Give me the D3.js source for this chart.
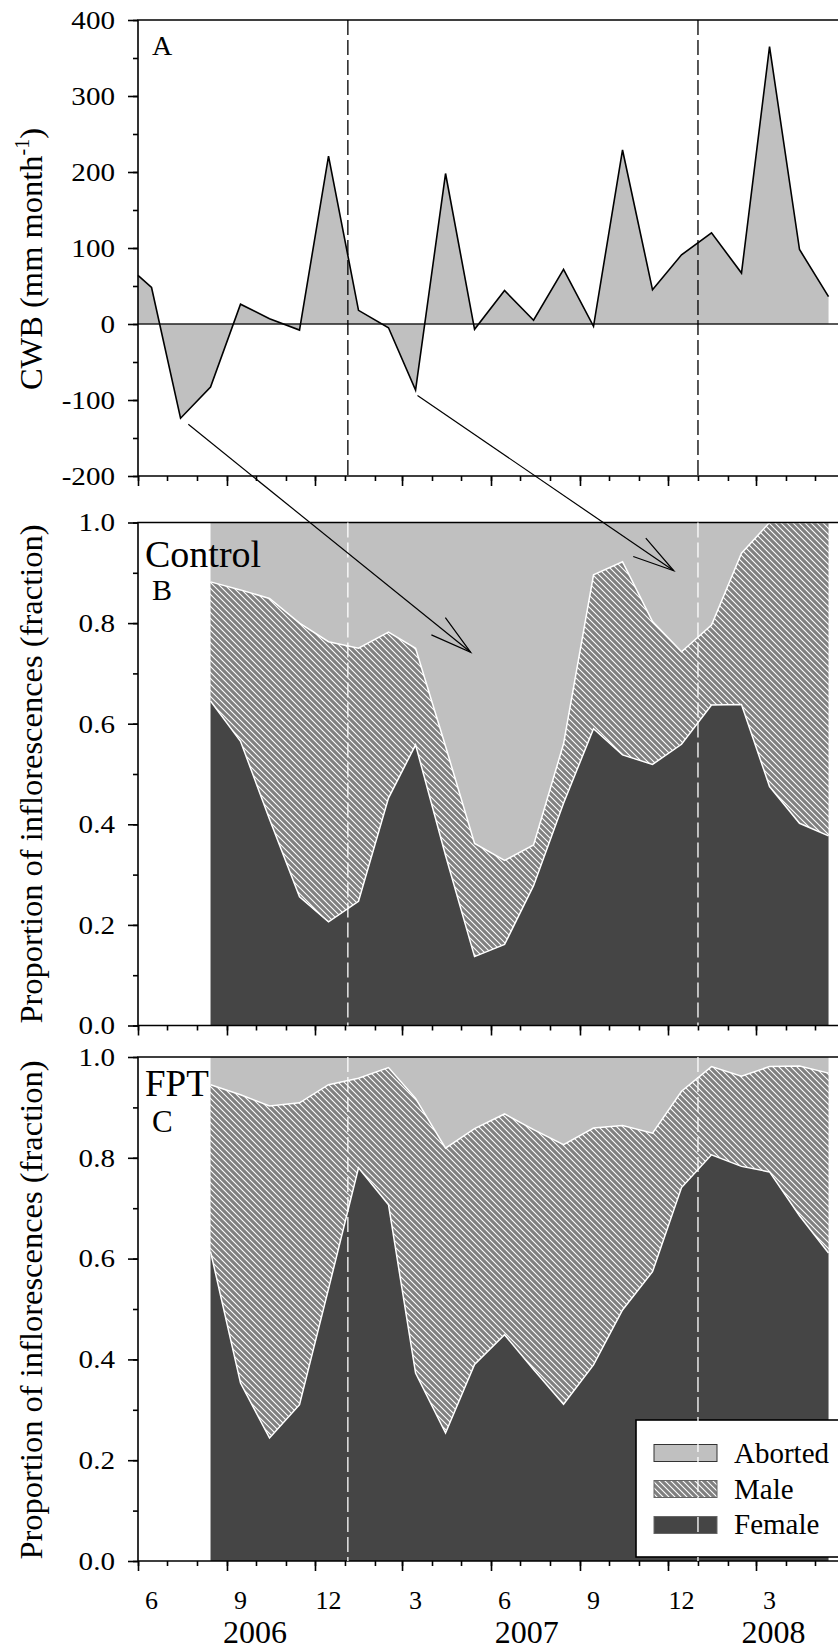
<!DOCTYPE html>
<html><head><meta charset="utf-8">
<script src="https://cdn.jsdelivr.net/npm/d3@7"></script>
<style>
body{margin:0;background:#fff}
svg{display:block}
svg text{font-family:'Liberation Serif','Tinos','Times New Roman','DejaVu Serif','Noto Serif',serif !important;fill:#000}
</style>
</head><body>
<svg id="c" width="838" height="1649" font-family="Liberation Serif, Tinos, Times New Roman, DejaVu Serif, serif"></svg>
<script>
// ---------------- DATA ----------------
const cwbDates = ["2006-06-01","2006-06-15","2006-07-15","2006-08-15","2006-09-15","2006-10-15","2006-11-15","2006-12-15",
  "2007-01-15","2007-02-15","2007-03-15","2007-04-15","2007-05-15","2007-06-15","2007-07-15","2007-08-15","2007-09-15","2007-10-15","2007-11-15","2007-12-15",
  "2008-01-15","2008-02-15","2008-03-15","2008-04-15","2008-05-15"];
const cwbValues = [64,48,-124,-83,26,7,-8,221,18,-5,-87,198,-7,44,5,72,-3,229,45,91,120,67,365,98,36];

const flowerDates = ["2006-08-15","2006-09-15","2006-10-15","2006-11-15","2006-12-15",
  "2007-01-15","2007-02-15","2007-03-15","2007-04-15","2007-05-15","2007-06-15","2007-07-15","2007-08-15","2007-09-15","2007-10-15","2007-11-15","2007-12-15",
  "2008-01-15","2008-02-15","2008-03-15","2008-04-15","2008-05-15"];
const controlFemale  = [.645,.565,.41,.256,.206,.247,.452,.558,.338,.137,.161,.278,.442,.59,.538,.519,.559,.637,.638,.475,.402,.377];
const controlMale    = [.237,.301,.439,.544,.557,.503,.33,.192,.217,.225,.167,.081,.118,.306,.384,.284,.184,.159,.301,.525,.598,.623];
const controlAborted = [.118,.134,.151,.2,.237,.25,.218,.25,.445,.638,.672,.641,.44,.104,.078,.197,.257,.204,.061,0,0,0];
const fptFemale  = [.614,.353,.244,.31,.54,.78,.707,.373,.254,.39,.449,.38,.311,.389,.498,.574,.741,.806,.783,.772,.685,.611];
const fptMale    = [.331,.572,.659,.599,.405,.178,.272,.545,.565,.468,.438,.476,.515,.47,.366,.275,.191,.175,.179,.209,.297,.357];
const fptAborted = [.055,.075,.097,.091,.055,.042,.021,.082,.181,.142,.113,.144,.174,.141,.136,.151,.068,.019,.038,.019,.018,.032];

const cwbTicks = [-200,-100,0,100,200,300,400];
const cwbMinor = [-200,-150,-100,-50,0,50,100,150,200,250,300,350,400];
const propTicks = [0,0.2,0.4,0.6,0.8,1.0];
const propMinor = [0,.1,.2,.3,.4,.5,.6,.7,.8,.9,1];
const monthLabels = ["6","9","12","3","6","9","12","3"];
const monthLabelDates = ["2006-06-15","2006-09-15","2006-12-15","2007-03-15","2007-06-15","2007-09-15","2007-12-15","2008-03-15"];
const yearLabels = ["2006","2007","2008"];
const yearLabelDates = ["2006-09-30","2007-07-08","2008-03-19"];
const dividerDates = ["2007-01-04","2008-01-01"];
const legendLabels = ["Aborted","Male","Female"];
const arrowFromDates = ["2006-07-23","2007-03-17"];
const arrowFromCwb = [-132,-94];
const arrowToDates = ["2007-05-11","2007-12-07"];
const arrowToProp = [0.742,0.904];

// ---------------- SETUP ----------------
const FONT = "'Liberation Serif','Tinos','Times New Roman','DejaVu Serif',serif";
const parse = d3.timeParse("%Y-%m-%d");
const svg = d3.select("#c");
const L = 138, R = 840;
const x = d3.scaleTime().domain([parse("2006-06-01"), parse("2008-03-01")]).range([138, 756]);
const yA = d3.scaleLinear().domain([-200,400]).range([476,20]);
const yB = d3.scaleLinear().domain([0,1]).range([1025.5,522.5]);
const yC = d3.scaleLinear().domain([0,1]).range([1561,1057]);

const COL = {aborted:"#c0c0c0", female:"#454545"};
const defs = svg.append("defs");
const pat = defs.append("pattern").attr("id","hatch").attr("patternUnits","userSpaceOnUse").attr("width",6).attr("height",6);
pat.append("rect").attr("width",6).attr("height",6).attr("fill","#808080");
pat.append("path").attr("d","M-1,-1L7,7M-1,5L1,7M5,-1L7,1").attr("stroke","#fff").attr("stroke-width",1.1);

const allMonths = d3.timeMonth.range(parse("2006-06-01"), parse("2008-05-02"));
const majorMonths = allMonths.filter(d => d.getMonth() % 3 === 2);
const SX = 1.12; // horizontal stretch of tick labels

function txt(sel) { return sel.style("font-family", FONT).attr("fill","#000"); }

function axes(y, majors, minors, fmt) {
  const [bot, top] = y.range();
  const gm = svg.append("g").attr("transform",`translate(${L},0)`)
    .call(d3.axisLeft(y).tickValues(minors).tickSize(5).tickFormat(""));
  gm.select(".domain").remove();
  const gM = svg.append("g").attr("transform",`translate(${L},0)`)
    .call(d3.axisLeft(y).tickValues(majors).tickSize(10).tickPadding(13).tickFormat(fmt));
  gM.select(".domain").remove();
  gM.attr("font-family", null);
  txt(gM.selectAll("text")).style("font-size","26px")
    .attr("x", -23/SX).attr("transform", `scale(${SX},1)`);
  const xm = svg.append("g").attr("transform",`translate(0,${bot})`)
    .call(d3.axisBottom(x).tickValues(allMonths).tickSize(5).tickFormat(""));
  xm.select(".domain").remove();
  const xM = svg.append("g").attr("transform",`translate(0,${bot})`)
    .call(d3.axisBottom(x).tickValues(majorMonths).tickSize(10).tickFormat(""));
  xM.select(".domain").remove();
  svg.selectAll(".tick line").attr("stroke","#000").attr("stroke-width",1.6);
  svg.append("path").attr("d",`M${R},${top}H${L}V${bot}H${R}`).attr("fill","none").attr("stroke","#000").attr("stroke-width",1.6);
}

function dividers(y, color) {
  const [bot, top] = y.range();
  svg.append("g").selectAll("line").data(dividerDates).join("line")
    .attr("x1", d => x(parse(d))).attr("x2", d => x(parse(d)))
    .attr("y1", top).attr("y2", bot)
    .attr("stroke", color).attr("stroke-width", 1.3).attr("stroke-dasharray","15,5");
}

// ---------------- PANEL A ----------------
const cwb = cwbDates.map((d,i)=>({date:parse(d), v:cwbValues[i]}));
svg.append("path").datum(cwb)
  .attr("d", d3.area().x(d=>x(d.date)).y0(yA(0)).y1(d=>yA(d.v)))
  .attr("fill", COL.aborted);
svg.append("line").attr("x1",L).attr("x2",R).attr("y1",yA(0)).attr("y2",yA(0)).attr("stroke","#222").attr("stroke-width",1.6);
svg.append("path").datum(cwb)
  .attr("d", d3.line().x(d=>x(d.date)).y(d=>yA(d.v)))
  .attr("fill","none").attr("stroke","#000").attr("stroke-width",1.6);
dividers(yA, "#000");
axes(yA, cwbTicks, cwbMinor, d => String(d));

// ---------------- PANELS B & C ----------------
function propPanel(y, female, male, aborted) {
  const rows = flowerDates.map((d,i)=>({date:parse(d), female:female[i], male:male[i], aborted:aborted[i]}));
  const series = d3.stack().keys(["female","male","aborted"])(rows);
  const area = d3.area().x(d=>x(d.data.date)).y0(d=>y(d[0])).y1(d=>y(d[1]));
  const fills = {female:COL.female, male:"url(#hatch)", aborted:COL.aborted};
  svg.append("g").selectAll("path").data(series).join("path")
    .attr("d", area).attr("fill", s => fills[s.key]);
  const line = d3.line().x(d=>x(d.data.date)).y(d=>y(d[1]));
  svg.append("g").selectAll("path").data(series.filter(s=>s.key!=="aborted")).join("path")
    .attr("d", line).attr("fill","none").attr("stroke","#fff").attr("stroke-width",1.5);
}
propPanel(yB, controlFemale, controlMale, controlAborted);
propPanel(yC, fptFemale, fptMale, fptAborted);
axes(yB, propTicks, propMinor, d3.format(".1f"));
axes(yC, propTicks, propMinor, d3.format(".1f"));
dividers(yB, "#fff");

// ---------------- LEGEND ----------------
const lg = svg.append("g");
lg.append("rect").attr("x",636).attr("y",1420).attr("width",210).attr("height",137)
  .attr("fill","#fff").attr("stroke","#000").attr("stroke-width",1.6);
const lgFill = {Aborted:COL.aborted, Male:"url(#hatch)", Female:COL.female};
legendLabels.forEach((k,i)=>{
  lg.append("rect").attr("x",654).attr("y",1444.5+i*36).attr("width",63).attr("height",17)
    .attr("fill",lgFill[k]).attr("stroke", k==="Aborted" ? "#333" : "#666").attr("stroke-width",1);
  txt(lg.append("text").attr("x",734).attr("y",1463+i*35.7).attr("font-size",29).text(k));
});
dividers(yC, "#fff");

// ---------------- X LABELS ----------------
txt(svg.append("g").selectAll("text").data(monthLabels).join("text")
  .attr("x",(d,i)=>x(parse(monthLabelDates[i]))).attr("y",1609)
  .attr("text-anchor","middle").attr("font-size",26).text(d=>d));
txt(svg.append("g").selectAll("text").data(yearLabels).join("text")
  .attr("x",(d,i)=>x(parse(yearLabelDates[i]))).attr("y",1643)
  .attr("text-anchor","middle").attr("font-size",32).text(d=>d));

// ---------------- TITLES ----------------
const t1 = txt(svg.append("text").attr("transform","translate(42,259) rotate(-90)").attr("text-anchor","middle").attr("font-size",32.5));
t1.append("tspan").text("CWB (mm month");
t1.append("tspan").attr("font-size",20).attr("dy",-13).text("-1");
t1.append("tspan").attr("dy",13).text(")");
txt(svg.append("text").attr("transform","translate(42,774) rotate(-90)").attr("text-anchor","middle").attr("font-size",32.5)
  .text("Proportion of inflorescences (fraction)"));
txt(svg.append("text").attr("transform","translate(42,1310) rotate(-90)").attr("text-anchor","middle").attr("font-size",32.5)
  .text("Proportion of inflorescences (fraction)"));

txt(svg.append("text").attr("x",152).attr("y",55).attr("font-size",28).text("A"));
txt(svg.append("text").attr("x",145).attr("y",567).attr("font-size",38).text("Control"));
txt(svg.append("text").attr("x",152).attr("y",600).attr("font-size",30).text("B"));
txt(svg.append("text").attr("x",145).attr("y",1096).attr("font-size",37).text("FPT"));
txt(svg.append("text").attr("x",152).attr("y",1132).attr("font-size",31).text("C"));

// ---------------- ARROWS ----------------
arrowFromDates.forEach((d,i)=>{
  const x0 = x(parse(d)), y0 = yA(arrowFromCwb[i]);
  const x1 = x(parse(arrowToDates[i])), y1 = yB(arrowToProp[i]);
  const ang = Math.atan2(y0-y1, x0-x1);
  const len = 43, sp = 15*Math.PI/180;
  const g = svg.append("g").attr("stroke","#000").attr("stroke-width",1.2).attr("fill","none");
  g.append("line").attr("x1",x0).attr("y1",y0).attr("x2",x1).attr("y2",y1);
  g.append("path").attr("d",`M${x1+len*Math.cos(ang+sp)},${y1+len*Math.sin(ang+sp)}L${x1},${y1}L${x1+len*Math.cos(ang-sp)},${y1+len*Math.sin(ang-sp)}`);
});
</script>
</body></html>
